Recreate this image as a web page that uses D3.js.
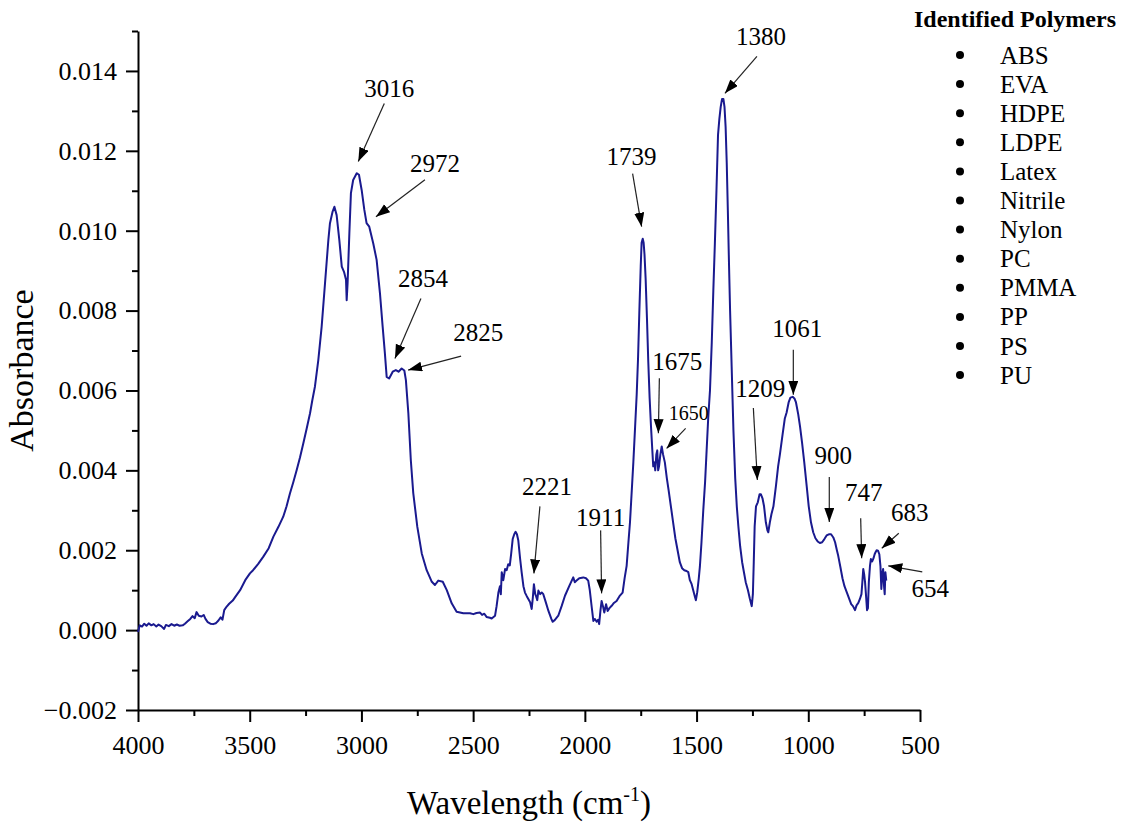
<!DOCTYPE html>
<html>
<head>
<meta charset="utf-8">
<script src="https://cdn.jsdelivr.net/npm/d3@7"></script>
<style>
	html, body { margin: 0; padding: 0; background: #fff; }
	svg text { font-family: "Liberation Serif", "Times New Roman", serif; }
</style>
</head>
<body>
<svg id="chart"></svg>
<script>
// spectrum (cm-1 / absorbance)
const wavenumber = [
	4000, 3992, 3982, 3972, 3962, 3952, 3940, 3930, 3918, 3908, 3896, 3883, 3875, 3862, 3850, 3838, 3826, 3814, 3800, 3790,
	3778, 3766, 3756, 3746, 3738, 3728, 3716, 3706, 3698, 3688, 3676, 3664, 3652, 3640, 3630, 3622, 3614, 3603, 3592, 3576,
	3566, 3543, 3520, 3499, 3485, 3462, 3439, 3415, 3394, 3372, 3350, 3335, 3320, 3305, 3290, 3275, 3260, 3245, 3230, 3220,
	3208, 3193, 3178, 3163, 3148, 3141, 3129, 3121, 3111, 3099, 3088, 3078, 3069, 3066, 3062, 3054, 3047, 3037, 3021, 3011,
	2999, 2987, 2977, 2965, 2947, 2932, 2917, 2905, 2895, 2887, 2876, 2860, 2846, 2834, 2820, 2808, 2801, 2790, 2779, 2768,
	2750, 2730, 2708, 2685, 2671, 2656, 2636, 2618, 2596, 2574, 2544, 2514, 2499, 2485, 2469, 2460, 2450, 2440, 2425, 2417,
	2402, 2395, 2387, 2380, 2376, 2372, 2365, 2357, 2350, 2343, 2336, 2330, 2323, 2316, 2310, 2304, 2298, 2290, 2283, 2275,
	2268, 2260, 2253, 2245, 2238, 2233, 2228, 2222, 2219, 2213, 2208, 2200, 2193, 2186, 2175, 2163, 2150, 2144, 2135, 2119,
	2104, 2089, 2070, 2052, 2045, 2037, 2025, 2007, 1995, 1985, 1978, 1970, 1962, 1955, 1947, 1940, 1936, 1930, 1925, 1919,
	1913, 1905, 1898, 1890, 1880, 1870, 1858, 1845, 1831, 1822, 1813, 1805, 1798, 1790, 1783, 1775, 1768, 1762, 1756, 1750,
	1746, 1741, 1737, 1733, 1728, 1722, 1716, 1710, 1704, 1698, 1694, 1689, 1685, 1680, 1676, 1672, 1668, 1662, 1656, 1650,
	1642, 1633, 1625, 1615, 1605, 1595, 1585, 1575, 1565, 1555, 1545, 1537, 1530, 1522, 1515, 1508, 1503, 1497, 1490, 1485,
	1478, 1470, 1462, 1455, 1448, 1440, 1432, 1425, 1418, 1411, 1404, 1398, 1392, 1386, 1380, 1375, 1370, 1365, 1360, 1355,
	1350, 1343, 1335, 1327, 1320, 1313, 1305, 1296, 1288, 1280, 1270, 1262, 1253, 1248, 1244, 1240, 1234, 1226, 1218, 1212,
	1205, 1198, 1190, 1183, 1179, 1172, 1165, 1156, 1145, 1135, 1127, 1115, 1105, 1097, 1088, 1080, 1070, 1062, 1055, 1045,
	1037, 1028, 1018, 1007, 998, 988, 978, 968, 958, 948, 938, 928, 918, 908, 898, 888, 880, 872, 866, 857,
	847, 838, 828, 818, 808, 800, 791, 784, 776, 769, 762, 758, 754, 750, 746, 742, 737, 733, 729, 724,
	720, 714, 708, 703, 699, 694, 688, 682, 677, 673, 669, 665, 661, 658, 655, 651
];
const absorbance = [
	-0.00005, 0.00012, 0.00009, 0.00016, 0.00011, 0.00017, 0.00012, 0.00015, 0.00009, 0.00014, 0.00010, 0.00003, 0.00013, 0.00010, 0.00015, 0.00011, 0.00014, 0.00011, 0.00012, 0.00016,
	0.00022, 0.00028, 0.00035, 0.00030, 0.00045, 0.00036, 0.00034, 0.00038, 0.00028, 0.00020, 0.00016, 0.00015, 0.00017, 0.00024, 0.00032, 0.00026, 0.00050, 0.00059, 0.00066, 0.00074,
	0.00082, 0.00100, 0.00125, 0.00142, 0.00150, 0.00166, 0.00184, 0.00205, 0.00234, 0.00258, 0.00284, 0.00310, 0.00342, 0.00370, 0.00400, 0.00432, 0.00468, 0.00505, 0.00543, 0.00575,
	0.00610, 0.00676, 0.00760, 0.00868, 0.00977, 0.01018, 0.01048, 0.01060, 0.01039, 0.00977, 0.00910, 0.00897, 0.00877, 0.00826, 0.00868, 0.00994, 0.01094, 0.01127, 0.01144, 0.01140,
	0.01102, 0.01052, 0.01019, 0.01010, 0.00968, 0.00927, 0.00843, 0.00760, 0.00693, 0.00634, 0.00630, 0.00647, 0.00651, 0.00647, 0.00655, 0.00650, 0.00626, 0.00543, 0.00426, 0.00343,
	0.00259, 0.00192, 0.00150, 0.00121, 0.00113, 0.00124, 0.00121, 0.00100, 0.00067, 0.00046, 0.00042, 0.00042, 0.00040, 0.00043, 0.00044, 0.00038, 0.00041, 0.00033, 0.00031, 0.00029,
	0.00036, 0.00060, 0.00094, 0.00110, 0.00090, 0.00145, 0.00125, 0.00153, 0.00150, 0.00165, 0.00162, 0.00190, 0.00228, 0.00240, 0.00246, 0.00240, 0.00225, 0.00180, 0.00145, 0.00110,
	0.00094, 0.00085, 0.00078, 0.00070, 0.00053, 0.00080, 0.00115, 0.00090, 0.00086, 0.00075, 0.00099, 0.00090, 0.00094, 0.00090, 0.00070, 0.00048, 0.00028, 0.00021, 0.00025, 0.00036,
	0.00060, 0.00086, 0.00110, 0.00132, 0.00120, 0.00124, 0.00130, 0.00132, 0.00130, 0.00124, 0.00100, 0.00061, 0.00023, 0.00028, 0.00021, 0.00026, 0.00015, 0.00050, 0.00073, 0.00060,
	0.00044, 0.00065, 0.00048, 0.00055, 0.00061, 0.00068, 0.00073, 0.00085, 0.00094, 0.00130, 0.00161, 0.00220, 0.00270, 0.00350, 0.00420, 0.00510, 0.00590, 0.00680, 0.00800, 0.00910,
	0.00970, 0.00980, 0.00970, 0.00940, 0.00880, 0.00780, 0.00670, 0.00580, 0.00510, 0.00450, 0.00410, 0.00420, 0.00400, 0.00440, 0.00450, 0.00400, 0.00410, 0.00440, 0.00460, 0.00440,
	0.00420, 0.00380, 0.00350, 0.00310, 0.00270, 0.00230, 0.00200, 0.00170, 0.00155, 0.00150, 0.00148, 0.00145, 0.00125, 0.00115, 0.00100, 0.00085, 0.00075, 0.00095, 0.00130, 0.00160,
	0.00220, 0.00300, 0.00370, 0.00450, 0.00530, 0.00600, 0.00720, 0.00850, 0.00970, 0.01100, 0.01240, 0.01280, 0.01310, 0.01330, 0.01330, 0.01310, 0.01260, 0.01170, 0.01050, 0.00920,
	0.00800, 0.00660, 0.00500, 0.00380, 0.00310, 0.00260, 0.00210, 0.00170, 0.00145, 0.00120, 0.00100, 0.00080, 0.00060, 0.00090, 0.00170, 0.00260, 0.00310, 0.00320, 0.00340, 0.00340,
	0.00330, 0.00310, 0.00270, 0.00250, 0.00245, 0.00270, 0.00290, 0.00310, 0.00360, 0.00410, 0.00440, 0.00490, 0.00530, 0.00545, 0.00570, 0.00582, 0.00584, 0.00580, 0.00570, 0.00540,
	0.00510, 0.00470, 0.00420, 0.00360, 0.00310, 0.00270, 0.00245, 0.00230, 0.00222, 0.00218, 0.00220, 0.00228, 0.00237, 0.00240, 0.00240, 0.00232, 0.00220, 0.00200, 0.00186, 0.00160,
	0.00130, 0.00110, 0.00095, 0.00080, 0.00065, 0.00060, 0.00050, 0.00062, 0.00068, 0.00078, 0.00090, 0.00120, 0.00153, 0.00140, 0.00120, 0.00090, 0.00050, 0.00055, 0.00120, 0.00160,
	0.00178, 0.00172, 0.00180, 0.00190, 0.00195, 0.00200, 0.00199, 0.00190, 0.00160, 0.00103, 0.00140, 0.00153, 0.00110, 0.00090, 0.00145, 0.00124
];

// peak labels: arrow tip in data units, tail + text as pixel offsets from the tip
const peakLabels = ["3016", "2972", "2854", "2825", "2221", "1911", "1739", "1675", "1650", "1380", "1209", "1061", "900", "747", "683", "654"];
const peakTipWn  = [3014, 2935, 2850, 2791, 2228, 1925, 1746, 1671, 1634, 1373, 1228, 1067, 906, 761, 671, 642];
const peakTipAbs = [0.01173, 0.01035, 0.0068, 0.00651, 0.00142, 0.00092, 0.0101, 0.00493, 0.00455, 0.01344, 0.00376, 0.00589, 0.00271, 0.0018, 0.00205, 0.00161];
const tailOffset = [[26, -58], [49, -37], [26, -60], [53, -14], [6, -67], [-1, -63], [-9, -53], [1, -55], [19, -20], [32, -37], [-4, -72], [0, -45], [0, -45], [-1, -40], [17, -15], [34, 6]];
const textOffset = [[31, -65], [59, -45], [28, -72], [70, -29], [13, -78], [-1, -67], [-10, -62], [19, -63], [22, -28], [36, -48], [3, -83], [4, -58], [4, -58], [2, -57], [28, -27], [42, 31]];

const polymers = ["ABS", "EVA", "HDPE", "LDPE", "Latex", "Nitrile", "Nylon", "PC", "PMMA", "PP", "PS", "PU"];

const xTicks = [4000, 3500, 3000, 2500, 2000, 1500, 1000, 500];
const yTicks = [-0.002, 0, 0.002, 0.004, 0.006, 0.008, 0.010, 0.012, 0.014];

const width = 1136;
const height = 822;
const serif = "'Liberation Serif', 'Times New Roman', serif";

const svg = d3.select("#chart")
              .attr("width", width)
              .attr("height", height);

const x = d3.scaleLinear([4000, 500], [138, 920]);
const y = d3.scaleLinear([-0.002, 0.015], [710, 31]);

// minor ticks first, so the major axis draws over them
svg.append("g")
   .attr("transform", `translate(0, ${y(-0.002)})`)
   .call(d3.axisBottom(x).tickValues(d3.range(3750, 500, -500)).tickSize(6).tickFormat(""))
   .call(g => g.select(".domain").remove())
   .call(g => g.selectAll(".tick line").attr("stroke-width", 2));

svg.append("g")
   .attr("transform", `translate(${x(4000)}, 0)`)
   .call(d3.axisLeft(y).tickValues(d3.range(-1, 16, 2).map(v => v / 1000)).tickSize(6).tickFormat(""))
   .call(g => g.select(".domain").remove())
   .call(g => g.selectAll(".tick line").attr("stroke-width", 2));

svg.append("g")
   .attr("transform", `translate(0, ${y(-0.002)})`)
   .call(d3.axisBottom(x).tickValues(xTicks).tickSizeInner(12).tickSizeOuter(0).tickPadding(14).tickFormat(d3.format("d")))
   .attr("font-family", serif)
   .call(g => g.select(".domain").attr("stroke-width", 2))
   .call(g => g.selectAll(".tick line").attr("stroke-width", 2))
   .call(g => g.selectAll("text").attr("font-size", 26).style("font-family", serif).attr("fill", "#000"));

svg.append("g")
   .attr("transform", `translate(${x(4000)}, 0)`)
   .call(d3.axisLeft(y).tickValues(yTicks).tickSizeInner(12).tickSizeOuter(0).tickPadding(9).tickFormat(d3.format(".3f")))
   .attr("font-family", serif)
   .call(g => g.select(".domain").attr("stroke-width", 2))
   .call(g => g.selectAll(".tick line").attr("stroke-width", 2))
   .call(g => g.selectAll("text").attr("font-size", 26).style("font-family", serif).attr("fill", "#000"));

// axis titles
svg.append("text")
   .attr("transform", `translate(33, ${(y(-0.002) + y(0.015)) / 2}) rotate(-90)`)
   .attr("text-anchor", "middle")
   .attr("font-size", 34)
   .style("font-family", serif)
   .text("Absorbance");

const xTitle = svg.append("text")
   .attr("x", (x(4000) + x(500)) / 2)
   .attr("y", 814)
   .attr("text-anchor", "middle")
   .attr("font-size", 33)
   .style("font-family", serif);
xTitle.append("tspan").text("Wavelength (cm");
xTitle.append("tspan").attr("font-size", 20).attr("dy", -13).text("-1");
xTitle.append("tspan").attr("dy", 13).text(")");

// spectrum
const line = d3.line()
               .x(i => x(wavenumber[i]))
               .y(i => y(absorbance[i]));

svg.append("path")
   .datum(d3.range(wavenumber.length))
   .attr("fill", "none")
   .attr("stroke", "#1a1a8f")
   .attr("stroke-width", 2)
   .attr("stroke-linejoin", "round")
   .attr("d", line);

// arrows
svg.append("defs")
   .append("marker")
   .attr("id", "head")
   .attr("markerUnits", "userSpaceOnUse")
   .attr("markerWidth", 16)
   .attr("markerHeight", 12)
   .attr("refX", 14)
   .attr("refY", 5)
   .attr("orient", "auto")
   .append("path")
   .attr("d", "M0,0L14,5L0,10z")
   .attr("fill", "#000");

const notes = svg.append("g");
peakLabels.forEach((label, i) => {
	const tx = x(peakTipWn[i]);
	const ty = y(peakTipAbs[i]);
	notes.append("line")
	     .attr("x1", tx + tailOffset[i][0])
	     .attr("y1", ty + tailOffset[i][1])
	     .attr("x2", tx)
	     .attr("y2", ty)
	     .attr("stroke", "#222")
	     .attr("stroke-width", 1.2)
	     .attr("marker-end", "url(#head)");
	notes.append("text")
	     .attr("x", tx + textOffset[i][0])
	     .attr("y", ty + textOffset[i][1])
	     .attr("text-anchor", "middle")
	     .attr("font-size", label === "1650" ? 20 : 25)
	     .style("font-family", serif)
	     .text(label);
});

// legend
const legend = svg.append("g");
legend.append("text")
      .attr("x", 1015)
      .attr("y", 27)
      .attr("text-anchor", "middle")
      .attr("font-size", 24)
      .attr("font-weight", "bold")
      .style("font-family", serif)
      .text("Identified Polymers");

legend.selectAll("circle")
      .data(polymers)
      .join("circle")
      .attr("cx", 960)
      .attr("cy", (d, i) => 55 + i * 29.1)
      .attr("r", 4)
      .attr("fill", "#000");

legend.selectAll("text.item")
      .data(polymers)
      .join("text")
      .attr("class", "item")
      .attr("x", 1000)
      .attr("y", (d, i) => 63.5 + i * 29.1)
      .attr("font-size", 25)
      .style("font-family", serif)
      .text(d => d);
</script>
</body>
</html>
